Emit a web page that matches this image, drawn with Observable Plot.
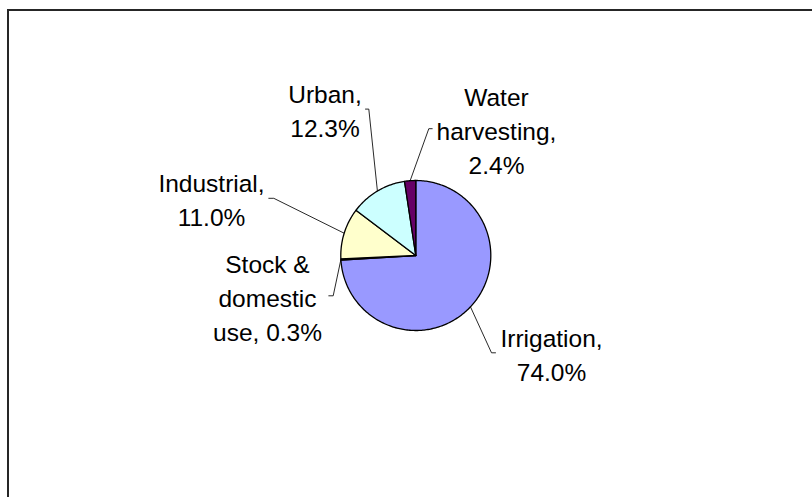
<!DOCTYPE html>
<html>
<head>
<meta charset="utf-8">
<script src="https://cdn.jsdelivr.net/npm/d3@7"></script>
<script src="https://cdn.jsdelivr.net/npm/@observablehq/plot@0.6"></script>
<style>
  html, body { margin: 0; padding: 0; background: #fff; overflow: hidden; }
  #wrap { position: relative; width: 812px; height: 497px; overflow: hidden; }
  #border { position: absolute; left: 7px; top: 8.5px; width: 900px; height: 600px;
            border-left: 2px solid #262626; border-top: 2px solid #262626; pointer-events: none; }
</style>
</head>
<body>
<div id="wrap"><div id="border"></div></div>
<script>
// ---- data ----
const categories = ["Irrigation", "Stock & domestic use", "Industrial", "Urban", "Water harvesting"];
const shares = [74.0, 0.3, 11.0, 12.3, 2.4];
const labelHeads = ["Irrigation,\n", "Stock &\ndomestic\nuse, ", "Industrial,\n", "Urban,\n", "Water\nharvesting,\n"];
const colors = ["#9999FF", "#993366", "#FFFFCC", "#CCFFFF", "#660066"];

// ---- layout (pixels) ----
const W = 812, H = 497;
const cx = 415.3, cy = 255, R = 75;
// label centre offsets from pie centre, and leader elbow / tick-end x offsets
const labelLayout = {
  "Irrigation":           {lx: 135.7, ly: 97.3,   ex: 75.7,   tx: 79.7},
  "Stock & domestic use": {lx: -148.3, ly: 40.3,  ex: -82.6,  tx: -87.0},
  "Industrial":           {lx: -204.3, ly: -57.2, ex: -142.0, tx: -147.0},
  "Urban":                {lx: -90.8, ly: -146.4, ex: -47.0,  tx: -50.3},
  "Water harvesting":     {lx: 80.7,  ly: -126.8, ex: 13.0,   tx: 16.4}
};

const arcs = d3.pie().sort(null).value(d => d)(shares);

const slicePts = [];
arcs.forEach((a, i) => {
  const name = categories[i];
  const n = Math.max(2, Math.ceil((a.endAngle - a.startAngle) / (Math.PI / 180)));
  slicePts.push({name, x: 0, y: 0});
  for (let k = 0; k <= n; k++) {
    const t = a.startAngle + (a.endAngle - a.startAngle) * k / n;
    slicePts.push({name, x: Math.sin(t), y: Math.cos(t)});
  }
  slicePts.push({name, x: 0, y: 0});
});

const leaderPts = [];
const labelData = [];
arcs.forEach((a, i) => {
  const name = categories[i];
  const L = labelLayout[name];
  const m = (a.startAngle + a.endAngle) / 2;
  leaderPts.push({name, x: Math.sin(m), y: Math.cos(m)});
  leaderPts.push({name, x: L.ex / R, y: -L.ly / R});
  leaderPts.push({name, x: L.tx / R, y: -L.ly / R});
  labelData.push({
    name,
    x: L.lx / R,
    y: -L.ly / R,
    text: labelHeads[i] + shares[i].toFixed(1) + "%"
  });
});

const chart = Plot.plot({
  width: W,
  height: H,
  margin: 0,
  x: {axis: null, domain: [-cx / R, (W - cx) / R]},
  y: {axis: null, domain: [-(H - cy) / R, cy / R]},
  color: {domain: categories, range: colors},
  style: {background: "transparent", overflow: "visible"},
  marks: [
    Plot.line(leaderPts, {x: "x", y: "y", z: "name", stroke: "#111", strokeWidth: 0.9}),
    Plot.line(slicePts, {x: "x", y: "y", z: "name", fill: "name", stroke: "black",
                         strokeWidth: 1.3, strokeLinejoin: "round"}),
    Plot.text(labelData, {x: "x", y: "y", text: "text", fontSize: 24.5, lineHeight: 1.39,
                          fontFamily: "'Liberation Sans', Arial, sans-serif", fill: "black",
                          textAnchor: "middle", lineAnchor: "middle"})
  ]
});
document.getElementById("wrap").appendChild(chart);
chart.style.position = "absolute";
chart.style.left = "0px";
chart.style.top = "0px";
</script>
</body>
</html>
